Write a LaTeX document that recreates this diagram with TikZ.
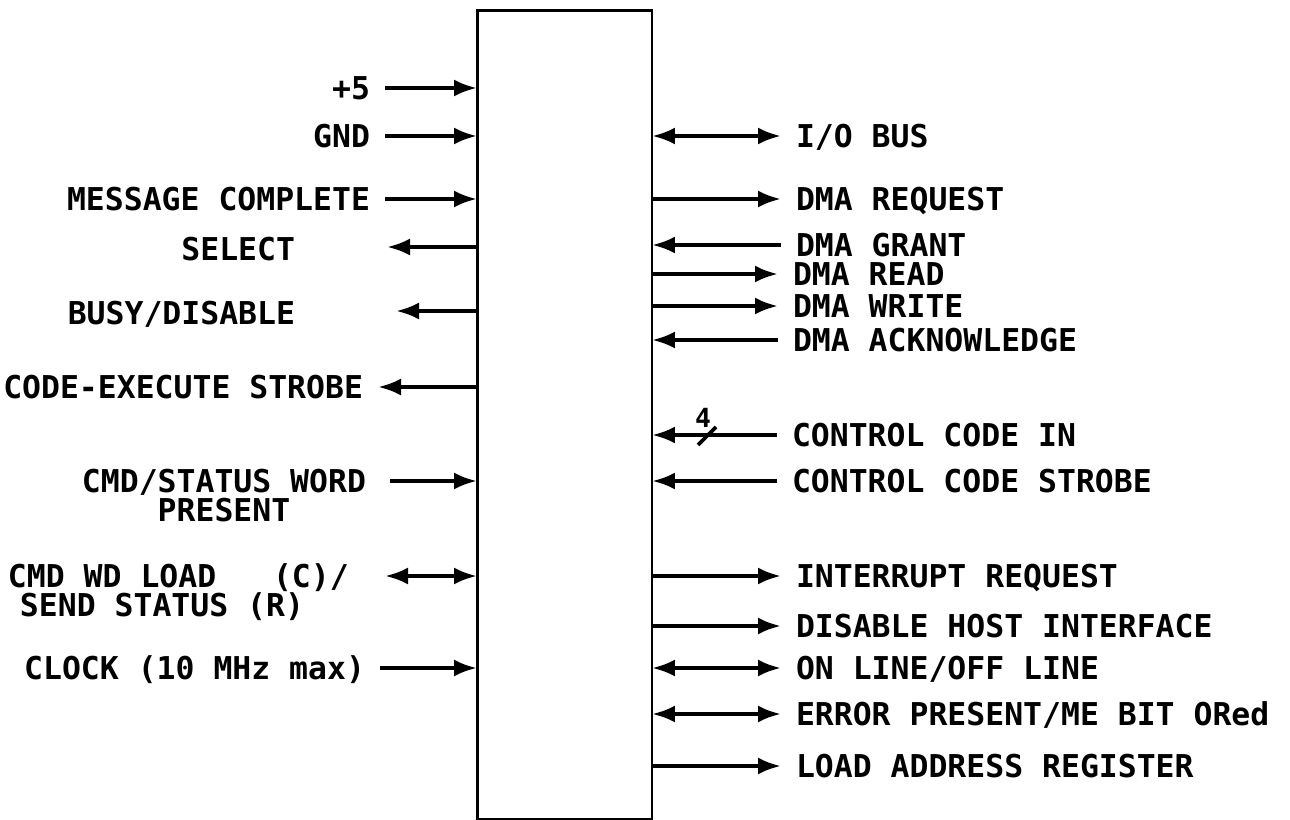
\documentclass[tikz,border=0pt]{standalone}
\usepackage{fontspec}
\usepackage{tikz}
\usetikzlibrary{arrows.meta,positioning}
\newfontfamily\pinfont{DejaVu Sans Mono}
\tikzset{
    chip/.style={draw, line width=1.7pt, minimum width=3.5cm, minimum height=16.2cm, inner sep=0pt, outer sep=0pt},
    pinbase/.style={font=\pinfont\bfseries\fontsize{17.9}{16.5}\selectfont, inner ysep=0pt, outer sep=0pt},
    pinlbl/.style={pinbase, inner xsep=0.3cm, text height=13.05pt, text depth=0pt},
    pinnote/.style={pinbase, inner xsep=0pt, align=center},
    sig/.style={line width=2.2pt},
    inarr/.style={sig, -{Latex[length=4.6mm, width=3.4mm]}},
    outarr/.style={sig, -{Latex[length=4.6mm, width=3.4mm]}},
    bidir/.style={sig, {Latex[length=4.6mm, width=3.4mm]}-{Latex[length=4.6mm, width=3.4mm]}},
}
\begin{document}
\begin{tikzpicture}[x=0.02cm, y=-0.02cm]
\useasboundingbox (0,0) rectangle (1290,820);
\node[chip] (chip) at (564.5,415) {};

\node[pinlbl, anchor=east] (plusfive) at (385,88) {+5};
\node[pinlbl, anchor=east] (gnd) at (385,136) {GND};
\node[pinlbl, anchor=east] (msgdone) at (385,199) {MESSAGE COMPLETE};
\node[pinlbl, anchor=east] (select) at (310,249) {SELECT};
\coordinate (selectpt) at (387,247);
\node[pinlbl, anchor=east] (busy) at (310,313) {BUSY/DISABLE};
\coordinate (busypt) at (396,311);
\node[pinlbl, anchor=east] (codex) at (378,387) {CODE-EXECUTE STROBE};
\node[pinnote, anchor=north east] (cmdstat) at (366,469) {CMD/STATUS WORD\\PRESENT};
\coordinate (cmdstatpt) at (390,481);
\node[pinnote, align=left, anchor=north west] (cmdwd) at (8,564) {CMD WD LOAD\ \ \ (C)/\\\hspace*{0.24cm}SEND STATUS (R)};
\coordinate (cmdwdpt) at (385,576);
\node[pinlbl, anchor=east] (clock) at (380,668) {CLOCK (10 MHz max)};

\node[pinlbl, anchor=west] (iobus) at (781,136) {I/O BUS};
\node[pinlbl, anchor=west] (dmareq) at (781,199) {DMA REQUEST};
\node[pinlbl, anchor=west] (dmagrant) at (781,245) {DMA GRANT};
\node[pinlbl, anchor=west] (dmaread) at (778,274) {DMA READ};
\node[pinlbl, anchor=west] (dmawrite) at (778,306) {DMA WRITE};
\node[pinlbl, anchor=west] (dmaack) at (778,340) {DMA ACKNOWLEDGE};
\node[pinlbl, anchor=west] (ctrlin) at (777,435) {CONTROL CODE IN};
\node[pinlbl, anchor=west] (ctrlstb) at (777,481) {CONTROL CODE STROBE};
\node[pinlbl, anchor=west] (intreq) at (781,576) {INTERRUPT REQUEST};
\node[pinlbl, anchor=west] (dishost) at (781,626) {DISABLE HOST INTERFACE};
\node[pinlbl, anchor=west] (online) at (781,668) {ON LINE/OFF LINE};
\node[pinlbl, anchor=west] (errpres) at (781,714) {ERROR PRESENT/ME BIT ORed};
\node[pinlbl, anchor=west] (loadaddr) at (781,766) {LOAD ADDRESS REGISTER};

\coordinate (buswidthpt) at (707,436);
\node[pinbase, inner xsep=0pt, font=\pinfont\bfseries\fontsize{15}{15}\selectfont] (buswidth) at (703,418) {4};

\draw[inarr] (plusfive) -- (chip.west |- plusfive);
\draw[inarr] (gnd) -- (chip.west |- gnd);
\draw[inarr] (msgdone) -- (chip.west |- msgdone);
\draw[outarr] (chip.west |- selectpt) -- (selectpt);
\draw[outarr] (chip.west |- busypt) -- (busypt);
\draw[outarr] (chip.west |- codex) -- (codex);
\draw[inarr] (cmdstatpt) -- (chip.west |- cmdstatpt);
\draw[bidir] (cmdwdpt) -- (chip.west |- cmdwdpt);
\draw[inarr] (clock) -- (chip.west |- clock);

\draw[bidir] (chip.east |- iobus) -- (iobus);
\draw[outarr] (chip.east |- dmareq) -- (dmareq);
\draw[inarr] (dmagrant) -- (chip.east |- dmagrant);
\draw[outarr] (chip.east |- dmaread) -- (dmaread);
\draw[outarr] (chip.east |- dmawrite) -- (dmawrite);
\draw[inarr] (dmaack) -- (chip.east |- dmaack);
\draw[inarr] (ctrlin) -- (chip.east |- ctrlin);
\draw[sig] (buswidthpt) ++(-9,9) -- ++(18,-18);
\draw[inarr] (ctrlstb) -- (chip.east |- ctrlstb);
\draw[outarr] (chip.east |- intreq) -- (intreq);
\draw[outarr] (chip.east |- dishost) -- (dishost);
\draw[bidir] (chip.east |- online) -- (online);
\draw[bidir] (chip.east |- errpres) -- (errpres);
\draw[outarr] (chip.east |- loadaddr) -- (loadaddr);
\end{tikzpicture}
\end{document}
